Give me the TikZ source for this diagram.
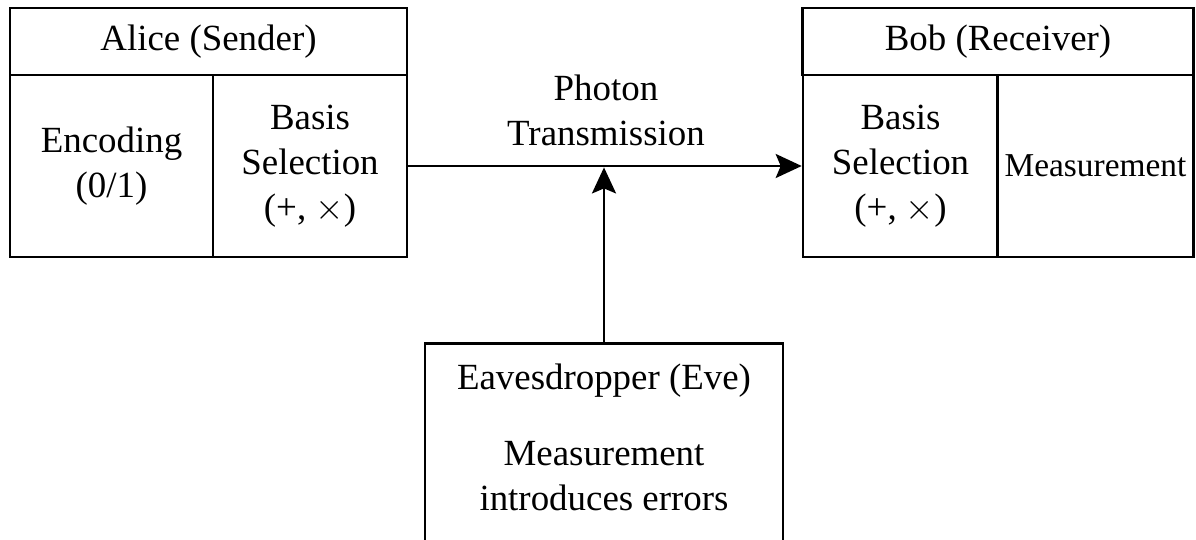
\documentclass[tikz,border=0pt]{standalone}
\usepackage{fontspec}
\setmainfont{Liberation Serif}
\usepackage{amsmath}
\usetikzlibrary{positioning,arrows.meta}

\begin{document}
\begin{tikzpicture}[x=0.02cm,y=-0.02cm]
\tikzstyle{txt}=[align=center, inner sep=0pt, font=\fontsize{21}{25.5}\selectfont]
\tikzstyle{cell}=[txt, rectangle, draw=black, line width=1.5pt]
\tikzstyle{head}=[cell, minimum height=1.34cm]
\tikzstyle{body}=[cell, minimum height=3.64cm]
\tikzstyle{connect}=[-{Stealth[length=0.52cm,width=0.48cm,inset=0.1cm]}, line width=1.5pt]

\useasboundingbox (0,0) rectangle (1196,540);

% Alice
\node[head, minimum width=7.94cm] (alice) at (208.5,41.5) {Alice (Sender)};
\node[body, minimum width=4.06cm] (a_enc) at (111.5,166) {Encoding\\(0/1)};
\node[body, minimum width=3.88cm] (a_sel) at (310,166) {Basis\\Selection\\(+, $\times$)};

% Bob
\node[head, minimum width=7.82cm] (bob) at (998,41.5) {Bob (Receiver)};
\node[body, minimum width=3.9cm] (b_sel) at (900.5,166) {Basis\\Selection\\(+, $\times$)};
\node[body, minimum width=3.92cm, font=\fontsize{19}{22}\selectfont] (b_meas) at (1095.5,166) {Measurement};

% channel
\node[txt] (photon) at (606,110) {Photon\\Transmission};

% Eve
\node[cell, minimum width=7.16cm, minimum height=4.4cm, anchor=north] (eve) at (604,342) {};
\node[txt, anchor=north] (eve_txt) at ([yshift=-0.44cm]eve.north) {Eavesdropper (Eve)\\[0.62cm]Measurement\\introduces errors};

\coordinate (tap) at (eve.north |- a_sel.east);

\draw[connect] (a_sel.east) -- (b_sel.west);
\draw[connect, shorten >=0.8pt] (eve.north) -- (tap);

\end{tikzpicture}
\end{document}
